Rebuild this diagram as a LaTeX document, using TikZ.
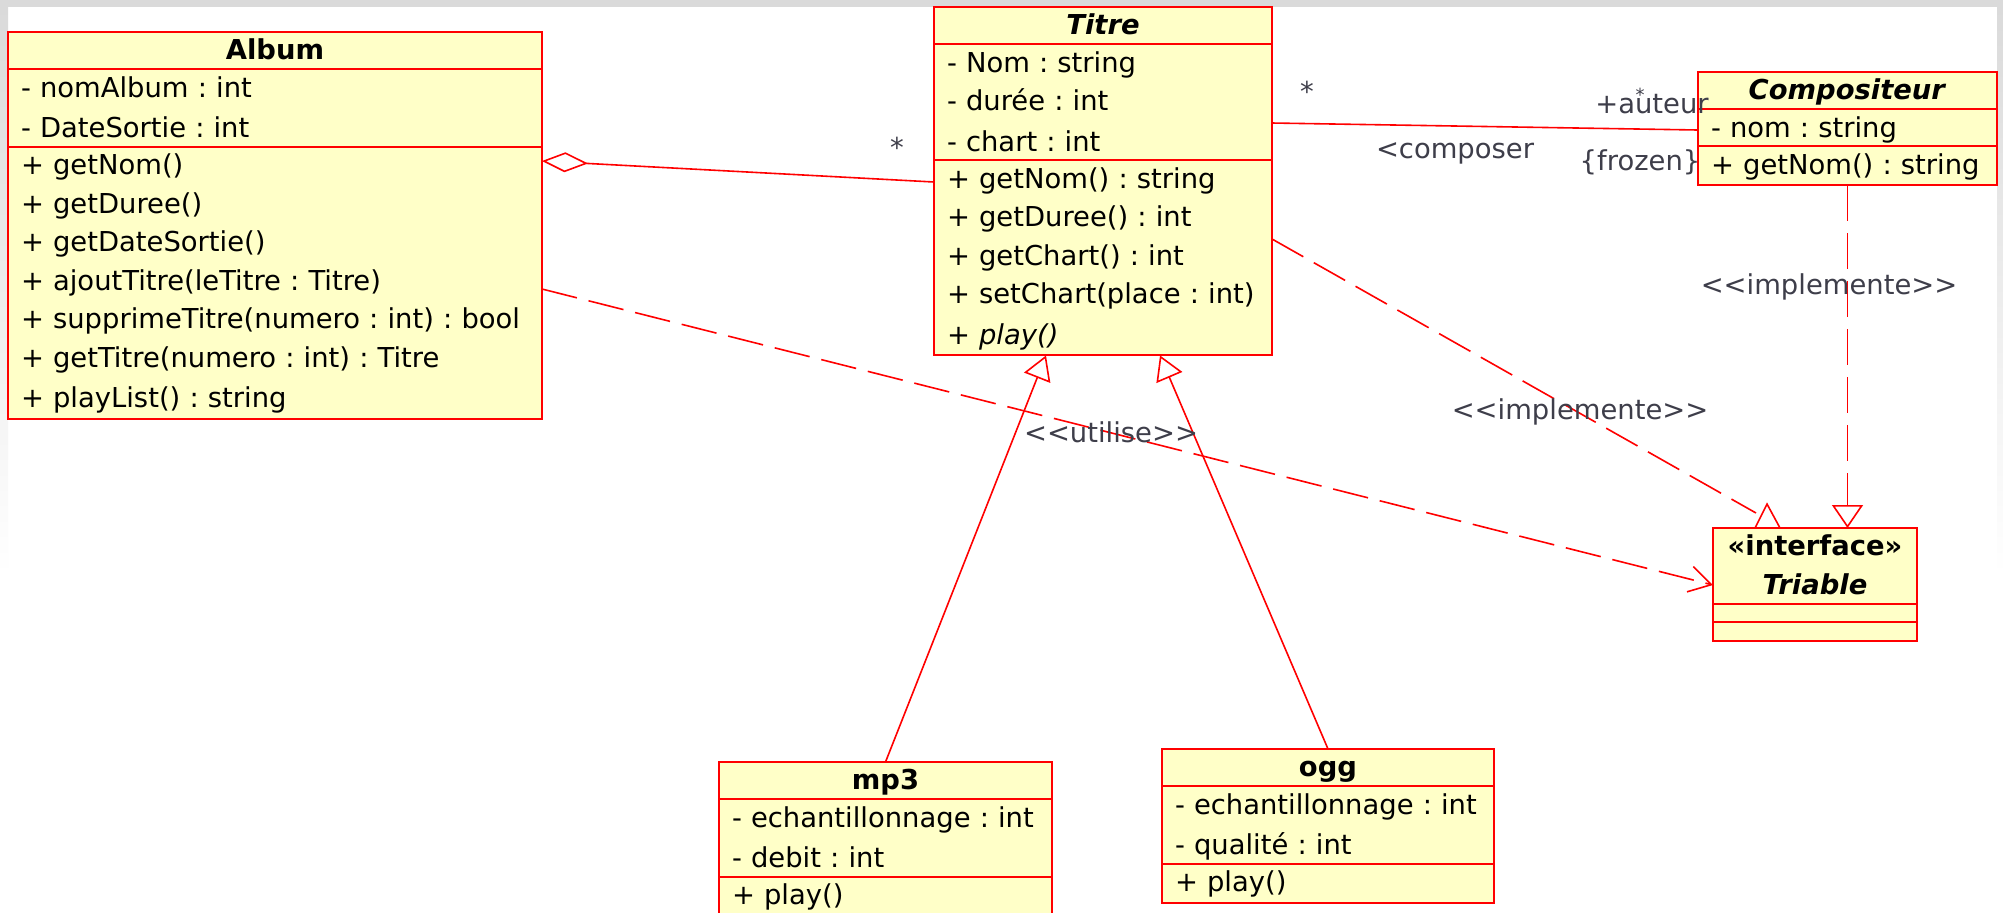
\documentclass[tikz,border=0pt]{standalone}
\usepackage{fontspec}
\setmainfont{DejaVu Sans}[Ligatures=TeXOff]
\usetikzlibrary{shapes.multipart,arrows.meta}
\definecolor{umlfill}{RGB}{255,255,200}
\definecolor{umlred}{RGB}{255,0,0}
\definecolor{lbltext}{RGB}{62,62,74}
\definecolor{shotframe}{RGB}{218,218,218}
\newcommand{\lastrow}{\rule[-4.1pt]{0pt}{17.575pt}}
\newcommand{\finalrow}{\rule[-5.1pt]{0pt}{18.575pt}}
\newcommand{\headrow}[1]{\hspace*{\fill}#1\hspace*{\fill}\lastrow}
\frenchspacing
\begin{document}
\begin{tikzpicture}[x=0.5pt, y=-0.5pt,
    classbox/.style={rectangle split, rectangle split parts=3, draw=umlred, fill=umlfill,
        line width=1pt, inner xsep=6.5pt, inner ysep=0pt, outer sep=0pt, anchor=north west,
        align=left, font=\fontsize{13.7}{19.25}\selectfont\frenchspacing},
    link/.style={umlred, line width=.8pt},
    dashlink/.style={link, dash pattern=on 18pt off 6pt},
    tag/.style={text=lbltext, inner sep=0pt, font=\fontsize{13.7}{16}\selectfont}]
\useasboundingbox (0,0) rectangle (2003,912);
\clip (0,0) rectangle (2003,912);
\fill[white] (0,0) rectangle (2003,912);
\fill[shotframe] (0,0) rectangle (2003,7);
\shade[top color=shotframe, bottom color=white] (0,7) rectangle (8,575);
\shade[top color=shotframe, bottom color=white] (1997,7) rectangle (2003,575);

\node[classbox, text width=254pt] (album) at (8,32) {\headrow{\textbf{Album}}
    \nodepart{two}\strut- nomAlbum : int\\\lastrow- DateSortie : int
    \nodepart{three}\strut+ getNom()\\\strut+ getDuree()\\\strut+ getDateSortie()\\
    \strut+ ajoutTitre(leTitre : Titre)\\\strut+ supprimeTitre(numero : int) : bool\\
    \strut+ getTitre(numero : int) : Titre\\\finalrow+ playList() : string};
\node[classbox, text width=156pt] (titre) at (934,7) {\headrow{\textbf{\textit{Titre}}}
    \nodepart{two}\strut- Nom : string\\\strut- durée : int\\\lastrow- chart : int
    \nodepart{three}\strut+ getNom() : string\\\strut+ getDuree() : int\\\strut+ getChart() : int\\
    \strut+ setChart(place : int)\\\finalrow+ \textit{play()}};
\node[classbox, text width=136.5pt] (compo) at (1698,72) {\headrow{\textbf{\textit{Compositeur}}}
    \nodepart{two}\lastrow- nom : string
    \nodepart{three}\finalrow+ getNom() : string};
\node[classbox, text width=89pt] (triable) at (1713,528) {\headrow{\textbf{«interface»}}\\\headrow{\textbf{\textit{Triable}}}
    \nodepart{two}\rule{0pt}{8pt}
    \nodepart{three}\rule{0pt}{8.5pt}};
\node[classbox, text width=153.5pt] (mp3) at (719,762) {\headrow{\textbf{mp3}}
    \nodepart{two}\strut- echantillonnage : int\\\lastrow- debit : int
    \nodepart{three}\finalrow+ play()};
\node[classbox, text width=153pt] (ogg) at (1162,749) {\headrow{\textbf{ogg}}
    \nodepart{two}\strut- echantillonnage : int\\\lastrow- qualité : int
    \nodepart{three}\finalrow+ play()};

\draw[link, {Diamond[open, length=23pt, width=10pt]}-] ([yshift=-64.5pt]album.north east) -- ([yshift=-87.5pt]titre.north west);
\draw[link] ([yshift=-58pt]titre.north east) -- ([yshift=-29pt]compo.north west);
\draw[dashlink, -{Straight Barb[length=11pt, width=13pt]}] ([yshift=-128.5pt]album.north east) -- ([yshift=-28.5pt]triable.north west);
\draw[dashlink] ([yshift=-116pt]titre.north east) -- ([shift={(21.5pt,7.5pt)}]triable.north west);
\draw[link] ([xshift=21pt]triable.north west) -- ([shift={(27pt,12pt)}]triable.north west) -- ([xshift=33.5pt]triable.north west);
\draw[dashlink, -{Triangle[open, length=11.5pt, width=15.5pt]}] (compo.south) -- (compo.south |- triable.north);
\draw[link, -{Triangle[open, length=12pt, width=14pt]}] (mp3.north) -- ([xshift=56pt]titre.south west);
\draw[link, -{Triangle[open, length=12pt, width=14pt]}] (ogg.north) -- ([xshift=113pt]titre.south west);

\node[tag] (multTitre) at (897,147) {*};
\node[tag] (multCompo) at (1307,91) {*};
\node[tag] (roleName) at (1652,104) {+auteur};
\node[tag, font=\fontsize{9}{10}\selectfont] (multAuteur) at (1640,95) {*};
\node[tag] (assocName) at (1455,153) {<composer};
\node[tag] (frozenTag) at (1640,162) {\{frozen\}};
\node[tag] (implTitre) at (1580,412) {<<implemente>>};
\node[tag] (implCompo) at (1829,287) {<<implemente>>};
\node[tag] (usesTag) at (1111,432) {<<utilise>>};
\end{tikzpicture}
\end{document}
